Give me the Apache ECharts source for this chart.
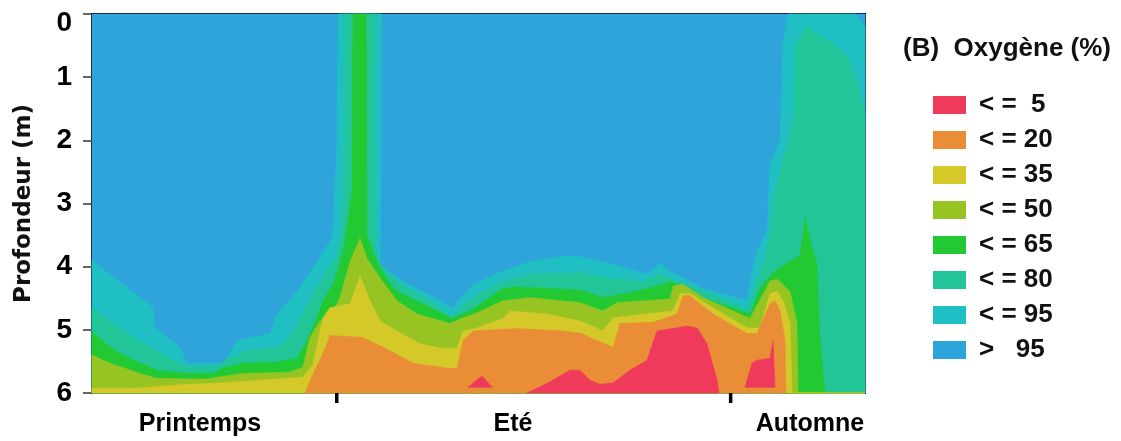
<!DOCTYPE html>
<html>
<head>
<meta charset="utf-8">
<script src="https://cdn.jsdelivr.net/npm/echarts@6/dist/echarts.min.js"></script>
<style>html,body{margin:0;padding:0;background:#fff;}#c{width:1121px;height:441px;}</style>
</head>
<body>
<div id="c"></div>
<script>
// Time axis (0..100, spring -> autumn), depth axis in metres (0..6)
const seasonNames = ['Printemps', 'Eté', 'Automne'];
const seasonLabelPos = [13.97, 54.46, 92.88];
const seasonTickPos = [31.66, 82.62];
const depthTicks = [0, 1, 2, 3, 4, 5, 6];

const legendNames = ['< =  5', '< = 20', '< = 35', '< = 50', '< = 65', '< = 80', '< = 95', '>   95'];
const levelColors = ['#EF3A5C', '#E98D36', '#D5C92A', '#97C423', '#23C932', '#22C597', '#1FBFC4', '#2EA4DA'];

// Upper boundary [time, depth] of each "O2 <= threshold" zone (closed down to 6 m)
const over95 = [[0, 0], [100, 0]];
const le95 = [[0,3.90],[2.33,4.12],[6.21,4.49],[7.89,4.65],[8.15,4.97],[11.38,5.28],[12.29,5.53],[16.95,5.53],[18.76,5.17],[23.03,5.06],[23.93,4.75],[26.52,4.39],[29.11,3.92],[30.79,3.60],[31.18,3.45],[31.70,2.0],[31.83,0],[37.52,0],[37.40,2.0],[37.26,3.96],[39.46,4.18],[43.34,4.43],[46.57,4.65],[49.29,4.28],[53.17,4.07],[56.66,3.92],[60.93,3.84],[63.13,3.84],[67.40,3.96],[71.80,4.12],[73.48,3.95],[74.78,4.07],[79.05,4.34],[84.74,4.54],[85.38,4.07],[86.03,3.76],[87.32,3.45],[87.71,2.39],[89.01,1.99],[89.39,0.51],[90.04,0],[98.71,0],[100,0.2]];
const le80 = [[0,4.67],[2.33,4.86],[5.30,5.12],[8.41,5.33],[11.38,5.53],[12.68,5.58],[16.17,5.58],[17.85,5.44],[20.05,5.33],[23.93,5.28],[25.62,5.12],[26.91,4.81],[28.59,4.43],[29.88,4.18],[31.70,3.80],[32.34,3.4],[32.73,2.0],[32.73,0],[36.61,0],[36.61,2.0],[36.74,3.8],[37.65,4.03],[39.46,4.23],[41.53,4.39],[43.73,4.54],[46.57,4.78],[49.29,4.49],[53.17,4.23],[56.66,4.12],[63.13,4.10],[67.40,4.18],[71.28,4.23],[73.48,4.12],[74.78,4.18],[79.95,4.43],[84.74,4.67],[86.03,4.23],[86.81,3.96],[87.71,3.5],[88.10,2.93],[90.69,1.72],[90.95,0.47],[92.50,0.2],[95.86,0.47],[97.67,0.67],[98.97,1.05],[99.61,1.41],[100,1.6]];
const le65 = [[0,5.03],[2.33,5.28],[5.30,5.48],[8.41,5.64],[12.29,5.69],[15.65,5.69],[16.95,5.61],[19.53,5.53],[23.93,5.51],[26.52,5.45],[27.81,5.17],[29.11,4.81],[29.88,4.54],[31.18,4.28],[32.08,3.95],[32.73,3.6],[33.64,2.8],[33.77,0],[35.45,0],[35.58,3.5],[36.87,3.92],[38.16,4.20],[39.46,4.39],[42.82,4.59],[46.57,4.82],[48.90,4.70],[53.17,4.35],[54.98,4.32],[63.13,4.37],[66.11,4.49],[70.51,4.39],[73.87,4.28],[74.78,4.23],[79.05,4.49],[85.13,4.75],[86.42,4.34],[88.10,4.10],[89.65,3.96],[91.59,3.82],[91.95,3.53],[92.24,3.21],[93.15,3.7],[93.79,3.96],[94.1,5.0],[94.44,5.5],[94.83,6.0],[100,6.0]];
const le50 = [[0,5.40],[2.33,5.53],[6.21,5.69],[8.41,5.77],[14.88,5.78],[16.17,5.75],[19.53,5.69],[25.62,5.67],[27.30,5.59],[28.20,5.12],[29.50,4.86],[30.79,4.81],[32.08,4.49],[33.38,3.92],[34.67,3.55],[35.58,3.87],[37.26,4.18],[39.46,4.54],[42.05,4.75],[46.31,4.90],[48.00,4.81],[49.81,4.73],[53.17,4.54],[56.66,4.49],[63.13,4.57],[66.11,4.70],[67.92,4.57],[74.78,4.51],[75.16,4.31],[76.46,4.28],[79.05,4.49],[85.13,4.82],[87.71,4.23],[88.62,4.20],[90.30,4.39],[91.20,4.90],[91.33,6.0],[100,6.0]];
const le35 = [[0,5.93],[6.21,5.92],[11.38,5.87],[16.95,5.84],[21.35,5.80],[23.93,5.78],[27.30,5.75],[28.59,5.55],[29.88,4.81],[30.79,4.65],[33.38,4.59],[34.67,4.15],[35.96,4.54],[37.26,4.86],[39.46,5.02],[42.43,5.22],[45.02,5.29],[47.22,5.29],[48.00,5.02],[49.81,4.97],[53.17,4.82],[54.08,4.70],[58.86,4.75],[63.13,4.86],[66.11,5.02],[67.40,4.81],[75.16,4.70],[76.07,4.43],[77.36,4.43],[80.34,4.65],[84.74,4.97],[86.42,4.97],[87.71,4.43],[88.62,4.39],[89.39,4.54],[90.30,4.90],[90.56,6.0],[100,6.0]];
const le20 = [[27.56,6.0],[28.59,5.7],[29.88,5.38],[30.79,5.09],[35.06,5.12],[38.55,5.33],[41.53,5.53],[45.93,5.61],[47.22,5.61],[48.00,5.17],[49.29,5.02],[54.98,4.98],[60.93,5.02],[63.13,5.05],[67.40,5.28],[68.31,4.90],[72.58,4.88],[75.68,4.75],[76.46,4.46],[77.36,4.46],[80.34,4.75],[84.74,5.06],[86.03,5.06],[87.71,4.59],[88.36,4.54],[89.01,4.70],[89.65,5.17],[89.78,6.0]];
const le5 = [[56.28,6.0],[58.86,5.85],[61.84,5.64],[63.13,5.64],[64.43,5.80],[65.72,5.86],[67.40,5.84],[69.60,5.64],[71.80,5.48],[73.09,5.02],[76.98,4.94],[78.27,4.97],[79.56,5.22],[80.86,5.80],[81.11,6.0]];
// isolated (closed) low-oxygen patches
const le5PatchA = [[48.64,5.91],[50.45,5.73],[51.75,5.91]];
const le5PatchB = [[84.48,5.91],[85.38,5.53],[86.03,5.48],[87.71,5.45],[88.10,5.17],[88.36,5.91]];

const DMAX = 6;
const FONT = 'Liberation Sans';

function makeSeries(name, color, lines, patches) {
  return {
    type: 'custom',
    name: name,
    coordinateSystem: 'cartesian2d',
    itemStyle: { color: color },
    data: lines[0],
    silent: true,
    renderItem: function (params, api) {
      if (params.dataIndex !== 0) return null;
      const children = [];
      lines.forEach(function (line) {
        const pts = line.map(function (p) { return api.coord(p); });
        pts.push(api.coord([line[line.length - 1][0], DMAX]));
        pts.push(api.coord([line[0][0], DMAX]));
        children.push({ type: 'polygon', shape: { points: pts }, style: { fill: color, stroke: color, lineWidth: 0.6 } });
      });
      (patches || []).forEach(function (poly) {
        const pts = poly.map(function (p) { return api.coord(p); });
        children.push({ type: 'polygon', shape: { points: pts }, style: { fill: color, stroke: color, lineWidth: 0.6 } });
      });
      return { type: 'group', children: children };
    }
  };
}

const series = [
  makeSeries(legendNames[7], levelColors[7], [over95]),
  makeSeries(legendNames[6], levelColors[6], [le95]),
  makeSeries(legendNames[5], levelColors[5], [le80]),
  makeSeries(legendNames[4], levelColors[4], [le65]),
  makeSeries(legendNames[3], levelColors[3], [le50]),
  makeSeries(legendNames[2], levelColors[2], [le35]),
  makeSeries(legendNames[1], levelColors[1], [le20]),
  makeSeries(legendNames[0], levelColors[0], [le5], [le5PatchA, le5PatchB]),
  // season boundary tick marks below the time axis
  {
    type: 'custom',
    name: 'seasonTicks',
    coordinateSystem: 'cartesian2d',
    clip: false,
    silent: true,
    z: 10,
    data: seasonTickPos.map(function (t) { return [t, DMAX]; }),
    renderItem: function (params, api) {
      const p = api.coord([api.value(0), api.value(1)]);
      return { type: 'line', shape: { x1: p[0], y1: p[1], x2: p[0], y2: p[1] + 10 }, style: { stroke: '#000', lineWidth: 3.5 } };
    }
  }
];

const chart = echarts.init(document.getElementById('c'), null, { renderer: 'canvas' });
chart.setOption({
  animation: false,
  backgroundColor: '#ffffff',
  title: {
    text: '(B)  Oxygène (%)',
    left: 903, top: 36, padding: 0,
    textStyle: { fontFamily: FONT, fontSize: 26, fontWeight: 'bold', color: '#111', lineHeight: 26 }
  },
  legend: {
    data: legendNames,
    orient: 'vertical',
    left: 933, top: 92, padding: 0,
    icon: 'rect',
    itemWidth: 33, itemHeight: 18,
    itemGap: 9,
    selectedMode: false,
    textStyle: { fontFamily: FONT, fontSize: 26, fontWeight: 'bold', color: '#111', lineHeight: 26, padding: [0, 0, 0, 8] }
  },
  grid: {
    left: 92, right: 256, top: 14, bottom: 48,
    outerBoundsMode: 'none', containLabel: false,
    show: true, borderColor: '#1f2b33', borderWidth: 2, backgroundColor: 'transparent'
  },
  xAxis: {
    type: 'value', min: 0, max: 100,
    axisLine: { show: true, lineStyle: { color: '#000', width: 2 } },
    axisTick: { show: false },
    axisLabel: {
      customValues: seasonLabelPos,
      margin: 19,
      fontFamily: FONT, fontSize: 25, fontWeight: 'bold', color: '#000',
      formatter: function (v) {
        let best = 0;
        seasonLabelPos.forEach(function (p, i) { if (Math.abs(p - v) < Math.abs(seasonLabelPos[best] - v)) best = i; });
        return seasonNames[best];
      }
    },
    splitLine: { show: false }
  },
  yAxis: {
    type: 'value', inverse: true, min: depthTicks[0], max: depthTicks[depthTicks.length - 1], interval: 1,
    name: 'Profondeur (m)', nameLocation: 'middle', nameGap: 56, nameRotate: 90,
    nameTextStyle: { fontFamily: 'DejaVu Sans', fontSize: 23, fontWeight: 'bold', color: '#111' },
    axisLine: { show: true, lineStyle: { color: '#000', width: 2 } },
    axisTick: { show: true, length: 9, lineStyle: { color: '#333', width: 1.5 } },
    axisLabel: {
      margin: 20,
      fontFamily: FONT, fontSize: 28, fontWeight: 'bold', color: '#000',
      formatter: function (v) { return v === 0 ? '{z|0}' : String(v); },
      rich: { z: { fontFamily: FONT, fontSize: 28, fontWeight: 'bold', color: '#000', padding: [18, 0, 0, 0] } }
    },
    splitLine: { show: false }
  },
  series: series
});
</script>
</body>
</html>
